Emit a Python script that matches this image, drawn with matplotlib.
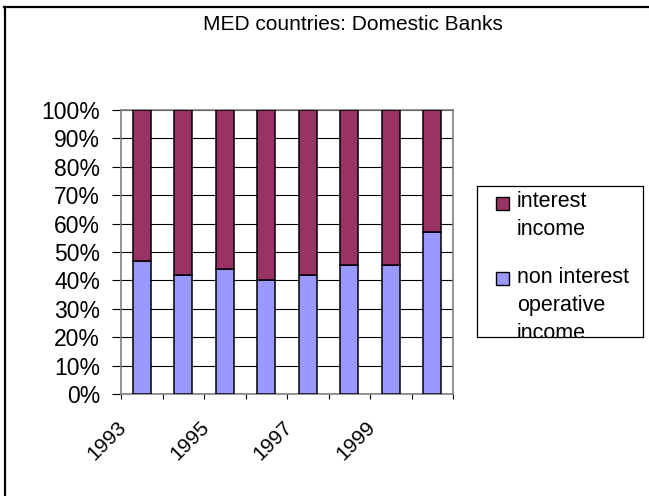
import matplotlib
matplotlib.use("Agg")
import matplotlib.pyplot as plt
import matplotlib.transforms as mtransforms
from matplotlib.lines import Line2D
from matplotlib.patches import Rectangle
import numpy as np

plt.rcParams['font.family'] = ['Liberation Sans', 'DejaVu Sans']

# Data: share of income by type (percent of total)
years = [1993, 1994, 1995, 1996, 1997, 1998, 1999, 2000]
non_interest = [47, 42, 44, 40, 42, 45.5, 45.5, 57]
interest = [100 - v for v in non_interest]
series_labels = ["interest\nincome", "non interest\noperative\nincome"]
series_colors = ["#993366", "#9999FF"]
title = "MED countries: Domestic Banks"

W, H = 649, 496
fig = plt.figure(figsize=(W / 100, H / 100), dpi=100)

ax = fig.add_axes([121 / W, 1 - 394 / H, 332 / W, 284 / H])
x = np.arange(len(years))
ax.bar(x, non_interest, width=0.44, color=series_colors[1],
       edgecolor="black", linewidth=1.1, zorder=3)
ax.bar(x, interest, bottom=non_interest, width=0.44, color=series_colors[0],
       edgecolor="black", linewidth=1.1, zorder=3)

ax.set_xlim(-0.5, len(years) - 0.5)
ax.set_ylim(0, 100)
yt = np.arange(0, 101, 10)
ax.set_yticks(yt)
ax.set_yticklabels([f"{v}%" for v in yt], fontsize=16.5)
ax.yaxis.grid(True, color="black", linewidth=0.8, zorder=1)
ax.tick_params(axis="y", direction="out", length=6.5, width=0.8,
               color="black", pad=8.5)

# category boundary ticks on the x axis
ax.set_xticks(np.arange(-0.5, len(years)), labels=[])
ax.tick_params(axis="x", direction="out", length=3.8, width=0.8, color="black")

# rotated year labels on every other category
shift = mtransforms.ScaledTranslation(-12 / 100, -24 / 100, fig.dpi_scale_trans)
for i in range(0, len(years), 2):
    ax.text(x[i], 0, str(years[i]), rotation=45,
            ha="right", va="top", fontsize=15,
            transform=ax.get_xaxis_transform() + shift)

for s in ax.spines.values():
    s.set_color("#808080")
    s.set_linewidth(1.2)

# title
fig.text(353 / W, 1 - 24 / H, title, ha="center", va="center", fontsize=15)

# legend box (text that runs past the frame is clipped)
lax = fig.add_axes([477 / W, 1 - 337 / H, 166 / W, 151 / H])
lax.set_xlim(0, 166)
lax.set_ylim(151, 0)
lax.set_xticks([])
lax.set_yticks([])
for s in lax.spines.values():
    s.set_color("black")
    s.set_linewidth(0.9)

entries = [(series_labels[0], series_colors[0], 17, 21),
           (series_labels[1], series_colors[1], 92, 97)]
for label, color, yc, base in entries:
    lax.add_patch(Rectangle((19, yc - 6.5), 13, 13, facecolor=color,
                            edgecolor="black", linewidth=1.0))
    for k, line in enumerate(label.split("\n")):
        t = lax.text(40, base + 27.8 * k, line, ha="left", va="baseline",
                     fontsize=15.5, clip_on=True)
        t.set_clip_box(lax.bbox)

# outer chart border
fig.add_artist(Line2D([4 / W, 1], [1 - 7 / H, 1 - 7 / H], color="black",
                      linewidth=1.6, transform=fig.transFigure))
fig.add_artist(Line2D([5 / W, 5 / W], [0, 1 - 7 / H], color="black",
                      linewidth=1.6, transform=fig.transFigure))

fig.savefig("out.png", dpi=100)
